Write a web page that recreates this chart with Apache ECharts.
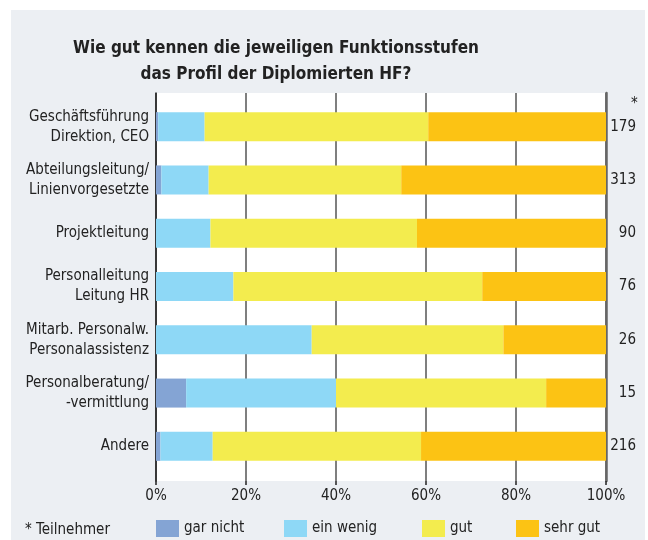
<!DOCTYPE html>
<html lang="de">

<head>
    <meta charset="UTF-8">
    <script src="https://cdn.jsdelivr.net/npm/echarts@6/dist/echarts.min.js"></script>
    <title>Funktionsstufen</title>
    <style>
        body { margin: 0; background: #fff; }
        #wrap { position: relative; width: 648px; height: 540px; }
        #panel { position: absolute; left: 11px; top: 10px; width: 634px; height: 530px; background: #eceff3; }
        #main { position: absolute; left: 0; top: 0; width: 648px; height: 540px; }
    </style>
</head>

<body>
    <div id="wrap">
        <div id="panel"></div>
        <div id="main"></div>
    </div>

    <script>
        // Kategorien (von oben nach unten)
        var categories = [
            'Geschäftsführung\nDirektion, CEO',
            'Abteilungsleitung/\nLinienvorgesetzte',
            'Projektleitung',
            'Personalleitung\nLeitung HR',
            'Mitarb. Personalw.\nPersonalassistenz',
            'Personalberatung/\n-vermittlung',
            'Andere'
        ];
        // Teilnehmer je Kategorie
        var participants = ['179', '313', '90', '76', '26', '15', '216'];

        // Anteile in %
        var garNicht = [0.5, 1.2, 0, 0, 0, 6.7, 1.0];
        var einWenig = [10.3, 10.5, 12.1, 17.2, 34.6, 33.3, 11.6];
        var gut = [49.7, 42.8, 45.9, 55.3, 42.6, 46.7, 46.3];
        var sehrGut = [39.5, 45.5, 42.0, 27.5, 22.8, 13.3, 41.1];

        var xTicks = [0, 20, 40, 60, 80, 100];

        var font = 'DejaVu Sans Condensed';
        var colors = ['#84a4d4', '#8ed8f6', '#f3ec4e', '#fcc314'];
        var names = ['gar nicht', 'ein wenig', 'gut', 'sehr gut'];
        var values = [garNicht, einWenig, gut, sehrGut];
        var legendX = [156, 284, 422, 516];

        var chartDom = document.getElementById('main');
        var myChart = echarts.init(chartDom);

        var series = names.map(function (n, i) {
            return {
                name: n,
                type: 'bar',
                stack: 'total',
                xAxisIndex: 1,
                yAxisIndex: 2,
                barWidth: 29,
                itemStyle: { color: colors[i] },
                data: values[i]
            };
        });

        var legends = names.map(function (n, i) {
            return {
                data: [n],
                left: legendX[i],
                top: 520,
                padding: 0,
                icon: 'rect',
                itemWidth: 23,
                itemHeight: 17,
                itemGap: 6,
                selectedMode: false,
                textStyle: { fontFamily: font, fontSize: 15, color: '#222' }
            };
        });

        var option = {
            backgroundColor: 'transparent',
            animation: false,
            color: colors,
            title: [
                {
                    text: 'Wie gut kennen die jeweiligen Funktionsstufen\ndas Profil der Diplomierten HF?',
                    left: 271,
                    top: 31,
                    textAlign: 'center',
                    textStyle: { fontFamily: font, fontSize: 17, fontWeight: 'bold', color: '#222', lineHeight: 26 }
                },
                {
                    text: '*',
                    left: 626,
                    top: 92,
                    textStyle: { fontFamily: font, fontSize: 15, fontWeight: 'normal', color: '#222' }
                },
                {
                    text: '* Teilnehmer',
                    left: 20,
                    top: 518,
                    textStyle: { fontFamily: font, fontSize: 15, fontWeight: 'normal', color: '#222' }
                }
            ],
            legend: legends,
            grid: [
                // weisser Hintergrund mit Gitterlinien
                { left: 156, right: 42, top: 93, bottom: 59, show: true, backgroundColor: '#fff', borderWidth: 0 },
                // Balken
                { left: 156, right: 42, top: 100, height: 373 }
            ],
            xAxis: [
                {
                    gridIndex: 0,
                    type: 'value',
                    min: 0,
                    max: 100,
                    interval: 20,
                    axisLine: { show: false },
                    axisTick: { show: true, length: 4, lineStyle: { color: '#222', width: 1.5 } },
                    axisLabel: {
                        fontFamily: font, fontSize: 15, color: '#222', margin: 8,
                        formatter: function (v) { return xTicks.indexOf(v) >= 0 ? v + '%' : ''; }
                    },
                    splitLine: { show: true, lineStyle: { color: '#555', width: 1.5 } }
                },
                {
                    gridIndex: 1,
                    type: 'value',
                    min: 0,
                    max: 100,
                    show: false
                }
            ],
            yAxis: [
                {
                    gridIndex: 0,
                    type: 'value',
                    min: 0,
                    max: 1,
                    position: 'left',
                    axisLine: { show: true, lineStyle: { color: '#222', width: 1.5 } },
                    axisTick: { show: false },
                    axisLabel: { show: false },
                    splitLine: { show: false }
                },
                {
                    gridIndex: 0,
                    type: 'value',
                    min: 0,
                    max: 1,
                    position: 'right',
                    axisLine: { show: true, lineStyle: { color: '#666', width: 2.5 } },
                    axisTick: { show: false },
                    axisLabel: { show: false },
                    splitLine: { show: false }
                },
                {
                    gridIndex: 1,
                    type: 'category',
                    inverse: true,
                    data: categories,
                    axisLine: { show: false },
                    axisTick: { show: false },
                    axisLabel: { fontFamily: font, fontSize: 15, color: '#222', margin: 7, lineHeight: 20, align: 'right' }
                },
                {
                    gridIndex: 1,
                    type: 'category',
                    inverse: true,
                    position: 'right',
                    data: participants,
                    axisLine: { show: false },
                    axisTick: { show: false },
                    axisLabel: { fontFamily: font, fontSize: 15, color: '#222', margin: 30, align: 'right' }
                }
            ],
            series: series
        };
        myChart.setOption(option);
    </script>
</body>

</html>
